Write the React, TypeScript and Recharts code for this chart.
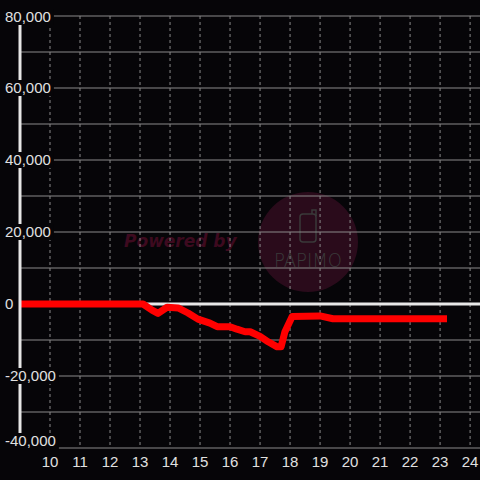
import { LineChart, Line, XAxis, YAxis, CartesianGrid, ReferenceLine } from 'recharts';

// hour of day -> cumulative balance
const hours = [9, 13.1, 13.4, 13.6, 13.9, 14.27, 14.6, 14.93, 15.33, 15.57, 16.0, 16.23, 16.5, 16.67, 17.0, 17.27, 17.57, 17.7, 17.83, 18.07, 19.0, 19.43, 23.23];
const balance = [0, 0, -1700, -2600, -900, -1100, -2500, -4200, -5300, -6300, -6300, -7000, -7700, -7700, -9000, -10500, -11900, -11900, -7700, -3500, -3300, -4100, -4100];

const xTicks = [10, 11, 12, 13, 14, 15, 16, 17, 18, 19, 20, 21, 22, 23, 24];
const yTicks = [-40000, -20000, 0, 20000, 40000, 60000, 80000];
const yGridLines = [-40000, -30000, -20000, -10000, 0, 10000, 20000, 30000, 40000, 50000, 60000, 70000, 80000];

const data = hours.map((h, i) => ({ h, v: balance[i] }));

const BG = '#060508';
const LABEL = '#e0e0e0';
const FONT = '"Liberation Sans", Arial, sans-serif';

// rough text width for 15px Liberation Sans
const textWidth = (s: string) => {
  let w = 0;
  for (const c of s) w += c === ',' ? 4.2 : c === '-' ? 5 : 8.34;
  return w;
};

const YTick = (props: any) => {
  const { payload } = props;
  // keep the edge labels inside the plot, like the original
  const y = Math.min(Math.max(props.y, 17), 441);
  const label = Number(payload.value).toLocaleString('en-US');
  const w = textWidth(label);
  return (
    <g>
      <rect x={3} y={y - 8} width={w + 5} height={16} fill={BG} />
      <text x={5} y={y} dy="0.36em" fill={LABEL} fontSize={15} fontFamily={FONT} textAnchor="start">
        {label}
      </text>
    </g>
  );
};

const Watermark = () => (
  <svg width={480} height={480} style={{ position: 'absolute', left: 0, top: 0 }}>
    <circle cx={308} cy={242} r={50} fill="#2a0b1b" />
    <text x={124} y={247} fontSize={17} fontWeight="bold" fontStyle="italic" fontFamily='"DejaVu Sans", sans-serif' fill="#3d0a1f">
      Powered by
    </text>
    <rect x={300} y={214} width={16} height={28} rx={3} fill="none" stroke="#3a3a3a" strokeWidth={1.5} />
    <path d="M312 214 L312 210 L316 210 L316 216" fill="none" stroke="#3a3a3a" strokeWidth={1.5} />
    <text x={274} y={267} fontSize={20} fontWeight={200} fontFamily='"DejaVu Sans", sans-serif' fill="#3a3a3a" textLength={68} lengthAdjust="spacingAndGlyphs">
      PAPIMO
    </text>
  </svg>
);

export default function App() {
  return (
    <div style={{ position: 'absolute', left: 0, top: 0, width: 480, height: 480, background: BG, overflow: 'hidden' }}>
      <Watermark />
      <div style={{ position: 'absolute', left: 0, top: 0 }}>
        <LineChart width={480} height={480} data={data} margin={{ top: 16, right: 0, left: 0, bottom: 0 }}>
          <CartesianGrid vertical={false} horizontalValues={yGridLines} stroke="#8a8a8a" strokeWidth={1} />
          <CartesianGrid horizontal={false} verticalValues={xTicks} stroke="#8a8a8a" strokeDasharray="3 3" />
          <XAxis
            dataKey="h"
            type="number"
            domain={[9, 24.33]}
            ticks={xTicks}
            allowDataOverflow
            height={32}
            axisLine={false}
            tickLine={false}
            tick={{ fill: LABEL, fontSize: 15, fontFamily: FONT }}
            interval={0}
          />
          <YAxis
            type="number"
            domain={[-40000, 80000]}
            ticks={yTicks}
            width={20}
            axisLine={{ stroke: '#e6e6e6', strokeWidth: 3 }}
            tickLine={false}
            tick={<YTick />}
            interval={0}
          />
          <ReferenceLine y={0} stroke="#e8e8e8" strokeWidth={3} />
          <Line
            dataKey="v"
            type="linear"
            stroke="#ff0000"
            strokeWidth={7}
            strokeLinejoin="round"
            dot={false}
            isAnimationActive={false}
          />
        </LineChart>
      </div>
    </div>
  );
}
